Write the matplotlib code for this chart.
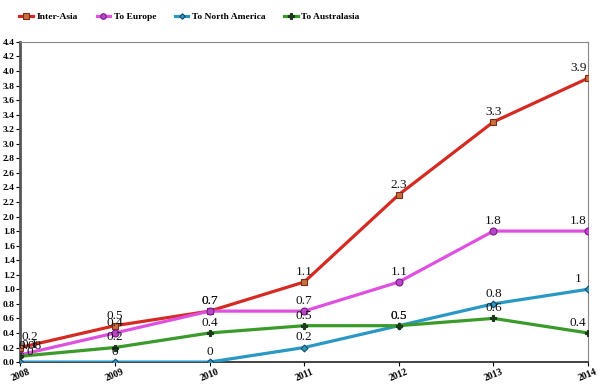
import matplotlib
matplotlib.use("Agg")
from matplotlib import pyplot as plt

years = [2008, 2009, 2010, 2011, 2012, 2013, 2014]
inter_asia = [0.2, 0.5, 0.7, 1.1, 2.3, 3.3, 3.9]
to_europe = [0.1, 0.4, 0.7, 0.7, 1.1, 1.8, 1.8]
to_north_america = [0, 0, 0, 0.2, 0.5, 0.8, 1]
to_australasia = [0.08, 0.2, 0.4, 0.5, 0.5, 0.6, 0.4]

series = [
    ("Inter-Asia", inter_asia, "#d42a22", "s", "#c8703c", "#7a2a1a"),
    ("To Europe", to_europe, "#e050e0", "o", "#b848c8", "#7a1a8a"),
    ("To North America", to_north_america, "#2a98c4", "D", "#2a98c4", "#1a4a6a"),
    ("To Australasia", to_australasia, "#3a9a2a", "P", "#1a3a1a", "#1a3a1a"),
]

plt.rcParams["font.family"] = ["Liberation Serif", "DejaVu Serif"]

fig = plt.figure(figsize=(6, 3.91), dpi=100)
ax = fig.add_axes([0.034, 0.074, 0.946, 0.819])

for name, vals, color, marker, mfc, mec in series:
    ms = 5
    if marker == "D":
        ms = 3.5
    ax.plot(years, vals, color=color, lw=2.3, marker=marker, ms=ms,
            mfc=mfc, mec=mec, mew=0.8, label=name, zorder=3)
    for x, v in zip(years, vals):
        dx = 0
        if x == years[0]:
            dx = 7
        elif x == years[-1]:
            dx = -7
        ax.annotate("%g" % v, (x, v), xytext=(dx, 3), textcoords="offset points",
                    ha="center", va="bottom", fontsize=9.5, color="#111111",
                    zorder=4)

ax.set_xlim(2008, 2014)
ax.set_ylim(0, 4.4)
ax.set_yticks([i * 0.2 for i in range(23)])
ax.set_yticklabels(["%.1f" % (i * 0.2) for i in range(23)], fontsize=6.8,
                   fontweight="bold")
ax.set_xticks(years)
ax.set_xticklabels([str(y) for y in years], fontsize=7, fontweight="bold",
                   rotation=22, ha="center")
ax.tick_params(axis="y", length=3, pad=1, width=0.8)
ax.tick_params(axis="x", length=3, pad=1, width=0.8)

ax.spines["left"].set_color("#555555")
ax.spines["left"].set_linewidth(2)
ax.spines["bottom"].set_color("#222222")
ax.spines["bottom"].set_linewidth(1.2)
ax.spines["top"].set_color("#888888")
ax.spines["right"].set_color("#888888")

fig.legend(loc="upper left", bbox_to_anchor=(0.018, 0.99), ncol=4, frameon=False,
           prop={"size": 6.8, "weight": "bold"}, handlelength=1.4,
           handletextpad=0.4, columnspacing=2.0, markerscale=0.8)

fig.savefig("out.png", dpi=100)
